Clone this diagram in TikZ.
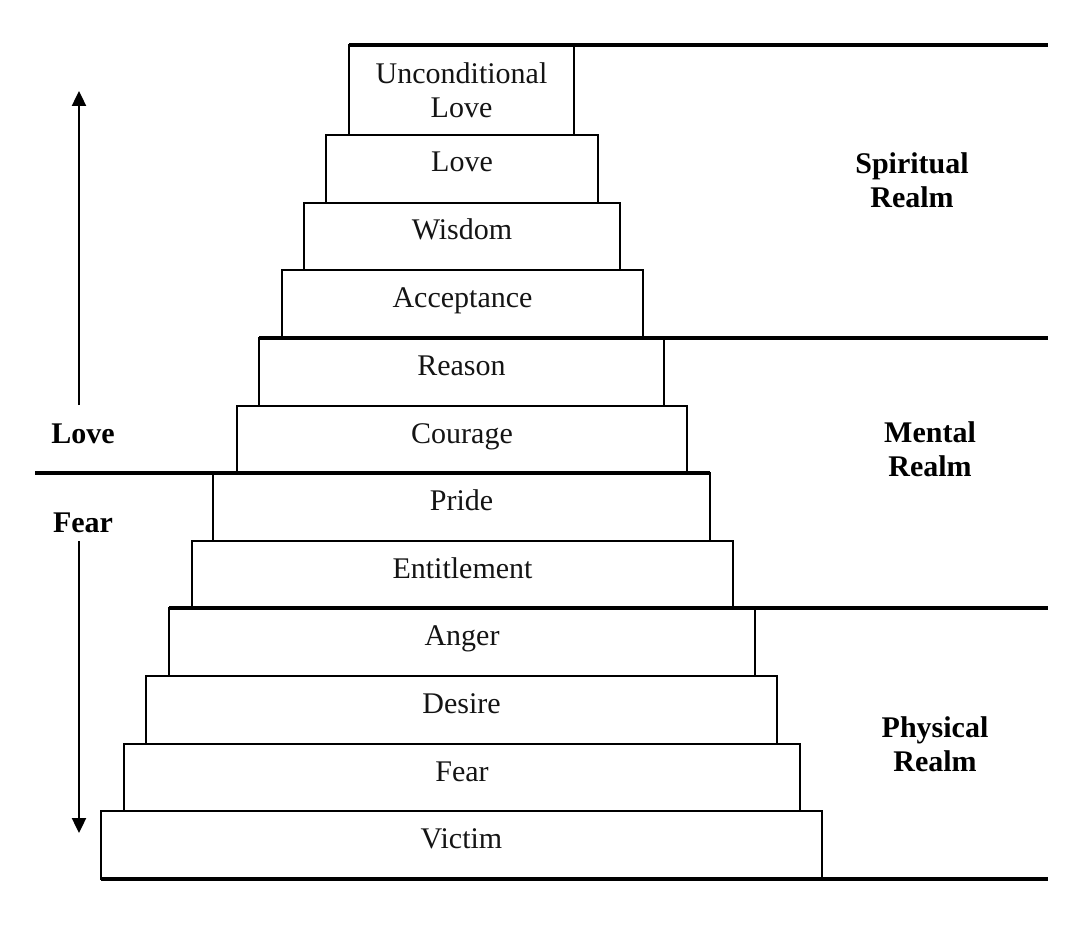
\documentclass[tikz,border=0pt]{standalone}
\usepackage{fontspec}
\setmainfont{Liberation Serif}
\usetikzlibrary{arrows.meta,calc}
\begin{document}
\begin{tikzpicture}[x=1pt,y=-1pt,
  stepbox/.style={draw=black, line width=2pt, outer sep=0pt, inner sep=0pt, anchor=north west},
  txt/.style={font=\fontsize{30}{34}\selectfont, text=black!92, inner sep=0pt},
  lbl/.style={font=\fontsize{30}{34}\selectfont\bfseries, text=black, inner sep=0pt, align=center},
  thk/.style={line width=3.4pt, line cap=butt},
  arr/.style={line width=2.4pt, -{Triangle[length=15pt,width=14pt]}}]
\useasboundingbox (0,0) rectangle (1073,941);
% steps
\node[stepbox, minimum width=225pt, minimum height=90pt] (b1)  at (349,45)  {};
\node[stepbox, minimum width=272pt, minimum height=68pt] (b2)  at (326,135) {};
\node[stepbox, minimum width=316pt, minimum height=67pt] (b3)  at (304,203) {};
\node[stepbox, minimum width=361pt, minimum height=68pt] (b4)  at (282,270) {};
\node[stepbox, minimum width=405pt, minimum height=68pt] (b5)  at (259,338) {};
\node[stepbox, minimum width=450pt, minimum height=67pt] (b6)  at (237,406) {};
\node[stepbox, minimum width=497pt, minimum height=68pt] (b7)  at (213,473) {};
\node[stepbox, minimum width=541pt, minimum height=67pt] (b8)  at (192,541) {};
\node[stepbox, minimum width=586pt, minimum height=68pt] (b9)  at (169,608) {};
\node[stepbox, minimum width=631pt, minimum height=68pt] (b10) at (146,676) {};
\node[stepbox, minimum width=676pt, minimum height=67pt] (b11) at (124,744) {};
\node[stepbox, minimum width=721pt, minimum height=68pt] (b12) at (101,811) {};
% step texts
\node[txt, anchor=north, align=center] (t1) at ($(b1.north)+(0,17.5)$) {Unconditional\\Love};
\node[txt, anchor=base] (t2)  at ($(b2.north)+(0,37)$)  {Love};
\node[txt, anchor=base] (t3)  at ($(b3.north)+(0,37)$)  {Wisdom};
\node[txt, anchor=base] (t4)  at ($(b4.north)+(0,37)$)  {Acceptance};
\node[txt, anchor=base] (t5)  at ($(b5.north)+(0,37)$)  {Reason};
\node[txt, anchor=base] (t6)  at ($(b6.north)+(0,37)$)  {Courage};
\node[txt, anchor=base] (t7)  at ($(b7.north)+(0,37)$)  {Pride};
\node[txt, anchor=base] (t8)  at ($(b8.north)+(0,37)$)  {Entitlement};
\node[txt, anchor=base] (t9)  at ($(b9.north)+(0,37)$)  {Anger};
\node[txt, anchor=base] (t10) at ($(b10.north)+(0,37)$) {Desire};
\node[txt, anchor=base] (t11) at ($(b11.north)+(0,37)$) {Fear};
\node[txt, anchor=base] (t12) at ($(b12.north)+(0,37)$) {Victim};
% realm boundary lines
\coordinate (R) at (1048,0);
\coordinate (L) at (35,0);
\draw[thk] (b1.north west) -- (b1.north west -| R);
\draw[thk] (b5.north west) -- (b5.north west -| R);
\draw[thk] (b7.north west -| L) -- (b7.north east);
\draw[thk] (b9.north west) -- (b9.north west -| R);
\draw[thk] (b12.south west) -- (b12.south west -| R);
% realm labels
\node[lbl, anchor=north] (sp) at (912,152.5) {Spiritual\\Realm};
\node[lbl, anchor=north] (me) at (930,421.5) {Mental\\Realm};
\node[lbl, anchor=north] (ph) at (935,716.5) {Physical\\Realm};
% love / fear
\node[lbl, anchor=base] (lv) at (83,443) {Love};
\node[lbl, anchor=base] (fr) at (83,532) {Fear};
\coordinate (upstart) at (79,405);
\coordinate (upend) at (79,91);
\coordinate (dnstart) at (79,541);
\coordinate (dnend) at (79,833);
\draw[arr] (upstart) -- (upend);
\draw[arr] (dnstart) -- (dnend);
\end{tikzpicture}
\end{document}
